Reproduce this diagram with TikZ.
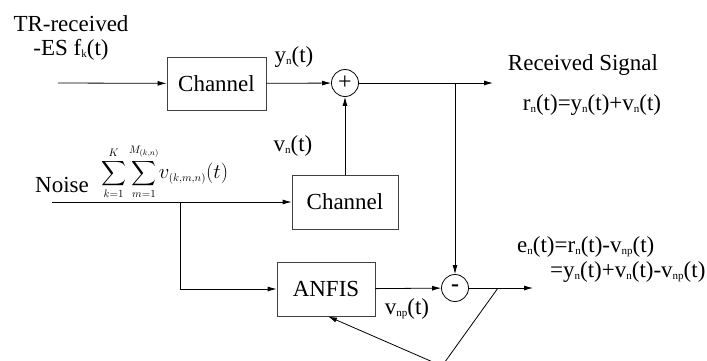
\documentclass[tikz,border=0pt]{standalone}
\usepackage{amsmath}
\usepackage{exscale}
\usepackage{fontspec}
\setmainfont{Liberation Serif}
\usetikzlibrary{arrows.meta}
\newcommand\lo[1]{\raisebox{-1.5pt}{\fontsize{11}{11}\selectfont #1}}

\begin{document}
\begin{tikzpicture}[x=1pt,y=-1pt,
  font=\fontsize{23}{27}\selectfont,
  blk/.style={draw=black!75,line width=0.8pt,inner sep=0pt},
  junc/.style={draw,circle,line width=0.8pt,minimum size=27pt,inner sep=0pt,font=\fontsize{24}{24}\selectfont},
  arr/.style={line width=0.8pt,-{Latex[length=9pt,width=5pt]}},
  lbl/.style={inner sep=0pt}]
\clip (0,0) rectangle (707,360);
\useasboundingbox (0,0) rectangle (707,360);
% blocks
\node[blk,minimum width=99pt,minimum height=53pt] (ch1) at (216.5,83.5) {Channel};
\node[junc] (sum) at (345,83) {\raisebox{1pt}{+}};
\node[blk,minimum width=106pt,minimum height=54pt] (ch2) at (345,202) {Channel};
\node[blk,minimum width=98pt,minimum height=54pt] (anfis) at (326,289) {ANFIS};
\node[junc] (diff) at (455,288) {\textbf{-}};
% free ends
\coordinate (in1) at (58,83);
\coordinate (out1) at (493,83);
\coordinate (tap1) at (455,83);
\coordinate (noisein) at (52,202);
\coordinate (tap2) at (180,202);
\coordinate (out2) at (533,288);
\coordinate (fbstart) at (498,288);
\coordinate (fbknee) at (442,366);
% connectors
\draw[arr] (in1) -- (ch1);
\draw[arr] (ch1) -- (sum);
\draw[arr] (sum) -- (out1);
\draw[arr] (tap1) -- (diff);
\draw[arr] (noisein) -- (ch2);
\draw[arr] (ch2) -- (sum);
\draw[arr] (tap2) |- (anfis);
\draw[arr] (anfis) -- (diff);
\draw[arr] (diff) -- (out2);
\draw[arr] (fbstart) -- (fbknee) -- ([xshift=2pt]anfis.south);
% labels
\node[lbl] (trrx) at (71,24) {TR-received};
\node[lbl] (esf) at (71,50) {-ES f\lo{k}(t)};
\node[lbl] (ylab) at (294,57) {y\lo{n}(t)};
\node[lbl] (vlab) at (293,146) {v\lo{n}(t)};
\node[lbl] (rxsig) at (583,65) {Received Signal};
\node[lbl] (rlab) at (592,105) {r\lo{n}(t)=y\lo{n}(t)+v\lo{n}(t)};
\node[lbl,anchor=base west] (noise) at (35,192) {Noise};
\node[lbl,anchor=base west] (nsum) at (101,178)
  {{\fontsize{16}{19}\selectfont$\displaystyle\sum_{k=1}^{K}\sum_{m=1}^{M_{(k,n)}}$}{\fontsize{22}{25}\selectfont$v_{\scriptscriptstyle(k,m,n)}(t)$}};
\node[lbl] (vnp) at (407,309) {v\lo{np}(t)};
\node[lbl,anchor=west] (elab1) at (517,247) {e\lo{n}(t)=r\lo{n}(t)-v\lo{np}(t)};
\node[lbl,anchor=west] (elab2) at (550,272) {=y\lo{n}(t)+v\lo{n}(t)-v\lo{np}(t)};
\end{tikzpicture}
\end{document}
